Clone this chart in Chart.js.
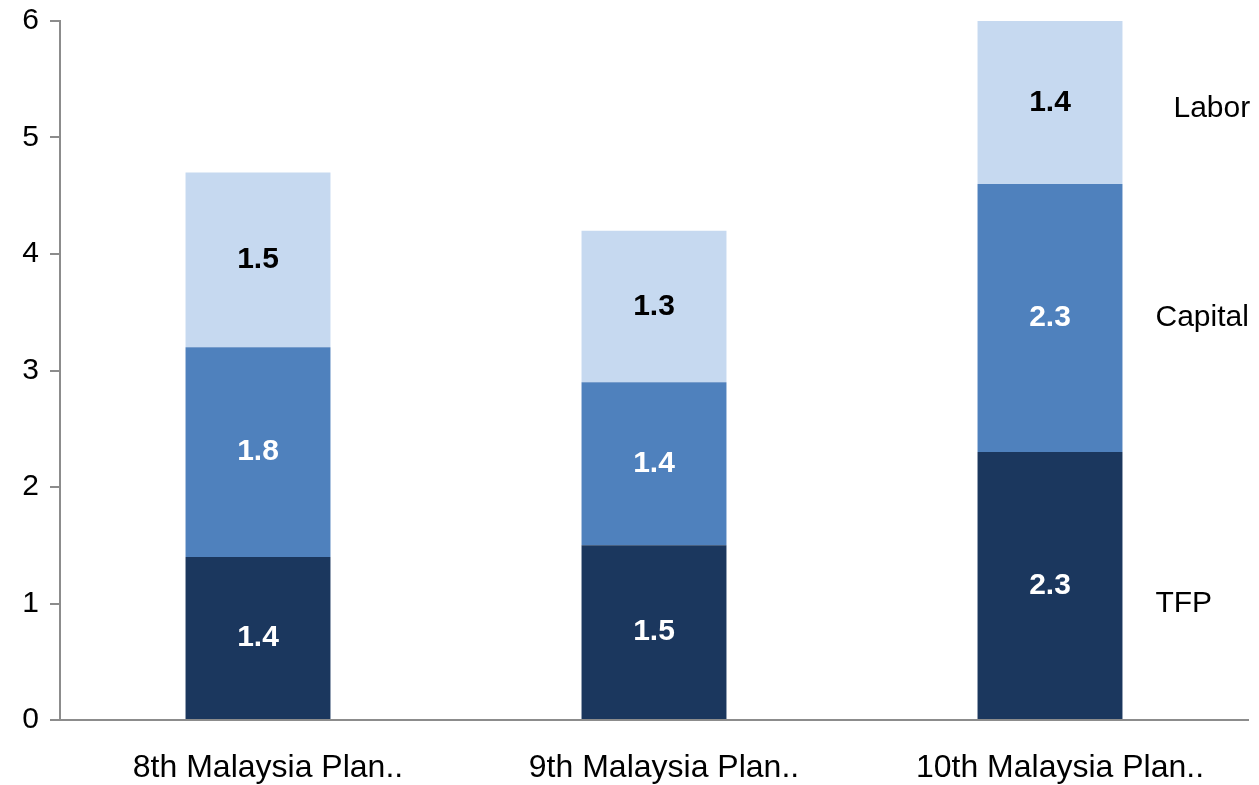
<!DOCTYPE html>
<html>
<head>
<meta charset="utf-8">
<script src="https://cdn.jsdelivr.net/npm/chart.js@4/dist/chart.umd.min.js"></script>
<style>
    html, body { margin: 0; padding: 0; background: #fff; }
    #wrap { width: 1259px; height: 785px; }
</style>
</head>
<body>
<div id="wrap"><canvas id="growthChart" width="1259" height="785"></canvas></div>
<script>
const plans = ["8th Malaysia Plan..", "9th Malaysia Plan..", "10th Malaysia Plan.."];
const tfp = [1.4, 1.5, 2.3];
const capital = [1.8, 1.4, 2.3];
const labor = [1.5, 1.3, 1.4];
const yTicks = [0, 1, 2, 3, 4, 5, 6];

const FONT = "'Liberation Sans', Arial, sans-serif";
const AXIS_GREY = "#8c8c8c";

// value written in the middle of every stacked segment
const segmentLabels = {
    id: "segmentLabels",
    afterDatasetsDraw(chart) {
        const c = chart.ctx;
        c.save();
        c.font = "bold 30px " + FONT;
        c.textAlign = "center";
        c.textBaseline = "middle";
        chart.data.datasets.forEach((ds, i) => {
            const meta = chart.getDatasetMeta(i);
            meta.data.forEach((bar, j) => {
                const p = bar.getProps(["x", "y", "base"], true);
                c.fillStyle = ds.labelColor;
                c.fillText(ds.data[j].toFixed(1), p.x, (p.y + p.base) / 2);
            });
        });
        c.restore();
    },
};

// series names next to the last column
const seriesNames = {
    id: "seriesNames",
    afterDraw(chart) {
        const c = chart.ctx;
        const y = chart.scales.y;
        const last = chart.getDatasetMeta(0).data[2];
        const right = last.x + last.width / 2;
        c.save();
        c.font = "30px " + FONT;
        c.fillStyle = "#000";
        c.textAlign = "left";
        c.textBaseline = "middle";
        c.fillText("Labor", right + 51, y.getPixelForValue(5.25));
        c.fillText("Capital", right + 33, y.getPixelForValue(3.45));
        c.fillText("TFP", right + 33, y.getPixelForValue(1.0));
        c.restore();
    },
};

new Chart(document.getElementById("growthChart"), {
    type: "bar",
    data: {
        labels: plans,
        datasets: [
            { label: "TFP", data: tfp, backgroundColor: "#1b375e", labelColor: "#ffffff" },
            { label: "Capital", data: capital, backgroundColor: "#4f81bd", labelColor: "#ffffff" },
            { label: "Labor", data: labor, backgroundColor: "#c6d9f0", labelColor: "#000000" },
        ],
    },
    options: {
        responsive: false,
        animation: false,
        layout: { padding: { top: 21, right: 11, bottom: 0, left: 0 } },
        datasets: {
            bar: { barPercentage: 0.366, categoryPercentage: 1, borderWidth: 0 },
        },
        plugins: {
            legend: { display: false },
            tooltip: { enabled: false },
        },
        scales: {
            x: {
                stacked: true,
                grid: { display: false, drawTicks: false },
                border: { display: true, color: AXIS_GREY, width: 2 },
                ticks: {
                    padding: 29,
                    labelOffset: 10,
                    color: "#000",
                    font: { family: FONT, size: 32 },
                    maxRotation: 0,
                    autoSkip: false,
                },
                afterFit(scale) { scale.height = 65; },
            },
            y: {
                stacked: true,
                min: 0,
                max: 6,
                afterBuildTicks(scale) { scale.ticks = yTicks.map(v => ({ value: v })); },
                grid: {
                    drawOnChartArea: false,
                    drawTicks: true,
                    tickLength: 10,
                    color: AXIS_GREY,
                    lineWidth: 2,
                },
                border: { display: true, color: AXIS_GREY, width: 2 },
                ticks: {
                    padding: 11,
                    color: "#000",
                    font: { family: FONT, size: 30 },
                },
                afterFit(scale) {
                    scale.width = 60;
                    scale.paddingTop = 0;
                    scale.paddingBottom = 0;
                },
            },
        },
    },
    plugins: [segmentLabels, seriesNames],
});
</script>
</body>
</html>
